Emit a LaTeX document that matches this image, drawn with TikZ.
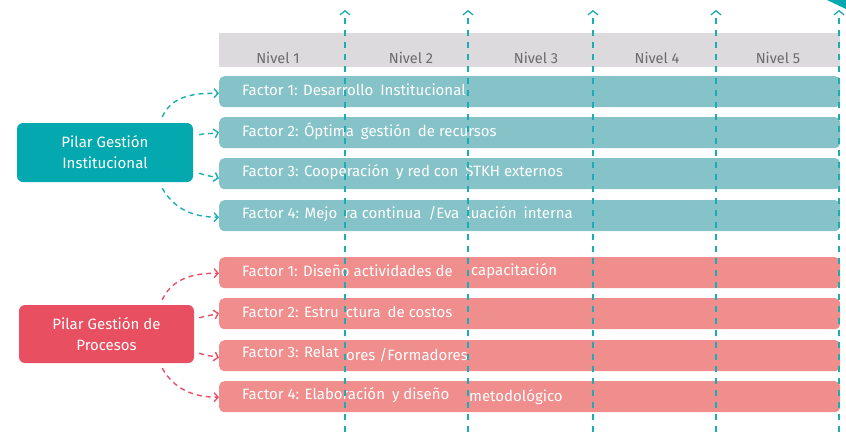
\documentclass[tikz,border=0pt]{standalone}
\usepackage{fontspec}
\setmainfont{Fira Sans}
\usetikzlibrary{arrows.meta,calc}
\definecolor{tealbar}{HTML}{86C3C8}
\definecolor{tealbox}{HTML}{03A9AF}
\definecolor{tealline}{HTML}{1AADB4}
\definecolor{redbar}{HTML}{F08E8E}
\definecolor{redbox}{HTML}{E84F60}
\definecolor{redline}{HTML}{E8506A}
\definecolor{hdr}{HTML}{DCDADC}
\definecolor{hdrtext}{HTML}{6B6B6B}
\newcommand\gap{\hspace{7pt}}
\tikzset{
  bar/.style={anchor=north west,minimum width=621pt,minimum height=31pt,inner sep=0pt,rounded corners=5pt},
  tbar/.style={bar,fill=tealbar},
  rbar/.style={bar,fill=redbar},
  lbl/.style={anchor=west,text=white,inner sep=0pt,font=\fontsize{15}{16}\selectfont},
  pbox/.style={rounded corners=6pt,align=center,text=white,font=\fontsize{15}{21}\selectfont,inner sep=0pt},
  nivel/.style={text=hdrtext,font=\fontsize{14.5}{16}\selectfont,inner sep=0pt},
  conn/.style={line width=1.4pt,dash pattern=on 5pt off 4pt,-{Straight Barb[length=4pt,width=9pt,line width=1.4pt]}},
  tconn/.style={conn,draw=tealline},
  rconn/.style={conn,draw=redline},
  vline/.style={draw=tealline,line width=1.5pt,dash pattern=on 6pt off 6pt,-{Straight Barb[length=4pt,width=10pt,line width=1.3pt]}}
}
\begin{document}
\begin{tikzpicture}[x=1pt,y=-1pt]
\useasboundingbox (0,0) rectangle (846,432);
% header
\node[fill=hdr,anchor=north west,minimum width=621pt,minimum height=34pt,inner sep=0pt] (hdr) at (219,33) {};
\node[nivel] (n1) at (278,58) {Nivel 1};
\node[nivel] (n2) at (411,58) {Nivel 2};
\node[nivel] (n3) at (536,58) {Nivel 3};
\node[nivel] (n4) at (657,58) {Nivel 4};
\node[nivel] (n5) at (778,58) {Nivel 5};
% teal bars
\node[tbar] (t1) at (219,76) {};
\node[tbar] (t2) at (219,117) {};
\node[tbar] (t3) at (219,158) {};
\node[tbar] (t4) at (219,200) {};
\node[lbl] (t1l) at (242,90) {Factor 1: Desarrollo\gap Institucional};
\node[lbl] (t2l) at (242,131) {Factor 2: Óptima\gap gestión\gap de recursos};
\node[lbl] (t3l) at (242,172) {Factor 3: Cooperación\gap y red con\gap STKH externos};
\node[lbl] (t4l) at (242,214) {Factor 4: Mejo\gap ra continua\gap /Eva\gap luación\gap interna};
% red bars
\node[rbar] (r1) at (219,257) {};
\node[rbar] (r2) at (219,298) {};
\node[rbar] (r3) at (219,340) {};
\node[rbar] (r4) at (219,381) {};
\node[lbl] (r1l) at (242,271) {Factor 1: Diseño actividades de};
\node[lbl] (r1m) at (471,271) {capacitación};
\node[lbl] (r2l) at (242,312) {Factor 2: Estru\gap ctura\gap de costos};
\node[lbl] (r3l) at (242,352) {Factor 3: Relat};
\node[lbl] (r3n) at (346,355) {ores /Formadores};
\node[lbl] (r4l) at (242,395) {Factor 4: Elaboración\gap y diseño};
\node[lbl] (r4m) at (469,397) {metodológico};
% pillars
\node[pbox,fill=tealbox,minimum width=176pt,minimum height=59pt] (pi) at (105,152.5) {Pilar Gestión\\Institucional};
\node[pbox,fill=redbox,minimum width=175pt,minimum height=58pt] (pr) at (106.5,334) {Pilar Gestión de\\Procesos};
% connectors teal
\coordinate (pi1) at ($(pi.north east)+(-31,-6)$);
\coordinate (pi2) at ($(pi.north east)+(6,12)$);
\coordinate (pi3) at ($(pi.south east)+(6,-9)$);
\coordinate (pi4) at ($(pi.south east)+(-31,6)$);
\draw[tconn] (pi1) to[out=65,in=180] ($(t1.west)+(0,1.5)$);
\draw[tconn] (pi2) to[out=15,in=195] ($(t2.west)+(0,-0.5)$);
\draw[tconn] (pi3) to[out=-20,in=165] ($(t3.west)+(0,4.5)$);
\draw[tconn] (pi4) to[out=-60,in=180] ($(t4.west)+(0,1.5)$);
% connectors red
\coordinate (pr1) at ($(pr.north east)+(-32,-5)$);
\coordinate (pr2) at ($(pr.north east)+(5,13)$);
\coordinate (pr3) at ($(pr.south east)+(5,-10)$);
\coordinate (pr4) at ($(pr.south east)+(-32,5)$);
\draw[rconn] (pr1) to[out=65,in=180] ($(r1.west)+(0,0.5)$);
\draw[rconn] (pr2) to[out=15,in=195] ($(r2.west)+(0,-0.5)$);
\draw[rconn] (pr3) to[out=-20,in=165] ($(r3.west)+(0,2)$);
\draw[rconn] (pr4) to[out=-60,in=180] ($(r4.west)+(0,0.5)$);
% vertical dashed lines
\foreach \i/\x in {1/345,2/468,3/593,4/716,5/839}{
  \coordinate (vb\i) at (\x,432);
  \coordinate (vt\i) at (\x,10);
  \draw[vline] (vb\i) -- (vt\i);
}
% corner wedge
\fill[tealbox] (827,0) -- (846,0) -- (846,9) -- cycle;
\end{tikzpicture}
\end{document}
